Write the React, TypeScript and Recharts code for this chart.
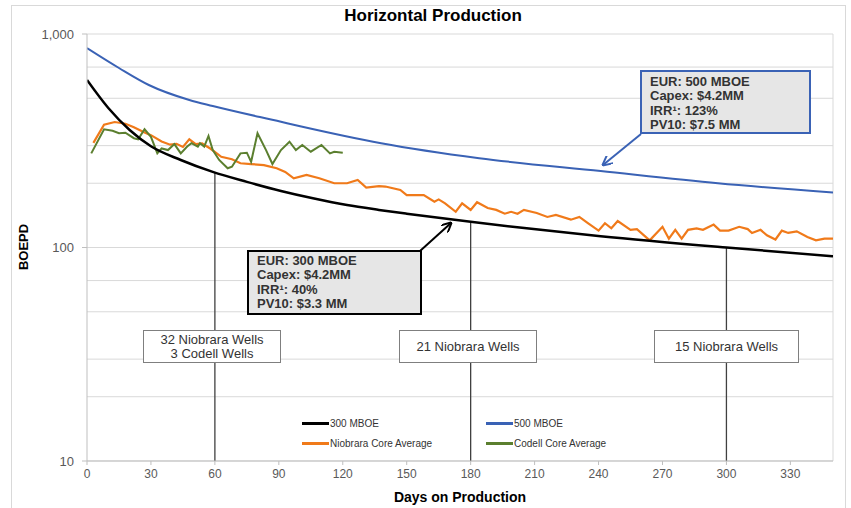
import React from "react";
import {
  LineChart,
  Line,
  XAxis,
  YAxis,
  CartesianGrid,
  ReferenceLine,
} from "recharts";

const FONT = '"Liberation Sans", Arial, sans-serif';

const xTicks = [0, 30, 60, 90, 120, 150, 180, 210, 240, 270, 300, 330];
const yTicks = [10, 100, 1000];
const gridValues = [
  10, 20, 30, 40, 50, 60, 70, 80, 90, 100, 200, 300, 400, 500, 600, 700, 800, 900, 1000,
];

// type curves
const mboe300 = [
  { day: 0, boepd: 609 },
  { day: 10, boepd: 450 },
  { day: 20, boepd: 355 },
  { day: 30, boepd: 298 },
  { day: 44, boepd: 257 },
  { day: 59, boepd: 226 },
  { day: 75, boepd: 203 },
  { day: 91, boepd: 184 },
  { day: 106, boepd: 170 },
  { day: 122, boepd: 158 },
  { day: 137, boepd: 150 },
  { day: 150, boepd: 144 },
  { day: 180, boepd: 132 },
  { day: 203, boepd: 124 },
  { day: 241, boepd: 113 },
  { day: 300, boepd: 100 },
  { day: 350, boepd: 91 },
];

const mboe500 = [
  { day: 0, boepd: 859 },
  { day: 15, boepd: 693 },
  { day: 29, boepd: 577 },
  { day: 48, boepd: 491 },
  { day: 59, boepd: 460 },
  { day: 91, boepd: 388 },
  { day: 100, boepd: 370 },
  { day: 138, boepd: 308 },
  { day: 184, boepd: 262 },
  { day: 241, boepd: 228 },
  { day: 296, boepd: 200 },
  { day: 350, boepd: 181 },
];

const niobraraAvg = [
  { day: 3, boepd: 309 }, { day: 8, boepd: 376 }, { day: 13, boepd: 387 },
  { day: 18, boepd: 380 }, { day: 22, boepd: 366 }, { day: 27, boepd: 346 },
  { day: 30, boepd: 336 }, { day: 35, boepd: 314 }, { day: 39, boepd: 303 },
  { day: 42, boepd: 306 }, { day: 45, boepd: 296 }, { day: 48, boepd: 321 },
  { day: 51, boepd: 305 }, { day: 54, boepd: 307 }, { day: 58, boepd: 290 },
  { day: 63, boepd: 266 }, { day: 68, boepd: 259 }, { day: 72, boepd: 248 },
  { day: 77, boepd: 246 }, { day: 83, boepd: 243 }, { day: 89, boepd: 235 },
  { day: 93, boepd: 226 }, { day: 97, boepd: 211 }, { day: 103, boepd: 219 },
  { day: 109, boepd: 211 }, { day: 116, boepd: 200 }, { day: 122, boepd: 200 },
  { day: 127, boepd: 207 }, { day: 131, boepd: 191 }, { day: 137, boepd: 194 },
  { day: 140, boepd: 193 }, { day: 147, boepd: 186 }, { day: 150, boepd: 176 },
  { day: 158, boepd: 176 }, { day: 163, boepd: 164 }, { day: 165, boepd: 168 },
  { day: 168, boepd: 161 }, { day: 173, boepd: 147 }, { day: 176, boepd: 161 },
  { day: 180, boepd: 150 }, { day: 183, boepd: 163 }, { day: 188, boepd: 153 },
  { day: 192, boepd: 150 }, { day: 196, boepd: 144 }, { day: 199, boepd: 147 },
  { day: 202, boepd: 144 }, { day: 205, boepd: 150 }, { day: 211, boepd: 145 },
  { day: 216, boepd: 139 }, { day: 220, boepd: 142 }, { day: 227, boepd: 135 },
  { day: 231, boepd: 139 }, { day: 235, boepd: 130 }, { day: 240, boepd: 120 },
  { day: 243, boepd: 130 }, { day: 246, boepd: 123 }, { day: 249, boepd: 133 },
  { day: 255, boepd: 121 }, { day: 258, boepd: 122 }, { day: 264, boepd: 108 },
  { day: 270, boepd: 125 }, { day: 273, boepd: 110 }, { day: 276, boepd: 121 },
  { day: 279, boepd: 110 }, { day: 282, boepd: 121 }, { day: 286, boepd: 123 },
  { day: 289, boepd: 121 }, { day: 294, boepd: 128 }, { day: 297, boepd: 120 },
  { day: 301, boepd: 120 }, { day: 306, boepd: 125 }, { day: 310, boepd: 122 },
  { day: 312, boepd: 117 }, { day: 316, boepd: 121 }, { day: 319, boepd: 114 },
  { day: 323, boepd: 109 }, { day: 326, boepd: 120 }, { day: 329, boepd: 117 },
  { day: 333, boepd: 119 }, { day: 338, boepd: 112 }, { day: 342, boepd: 108 },
  { day: 346, boepd: 110 }, { day: 350, boepd: 110 },
];

const codellAvg = [
  { day: 2, boepd: 276 }, { day: 8, boepd: 358 }, { day: 12, boepd: 352 },
  { day: 15, boepd: 343 }, { day: 18, boepd: 345 }, { day: 22, boepd: 325 },
  { day: 24, boepd: 321 }, { day: 27, boepd: 358 }, { day: 30, boepd: 330 },
  { day: 33, boepd: 276 }, { day: 35, boepd: 291 }, { day: 38, boepd: 286 },
  { day: 41, boepd: 305 }, { day: 44, boepd: 276 }, { day: 47, boepd: 297 },
  { day: 49, boepd: 308 }, { day: 52, boepd: 297 }, { day: 53, boepd: 308 },
  { day: 55, boepd: 297 }, { day: 57, boepd: 333 }, { day: 59, boepd: 286 },
  { day: 62, boepd: 257 }, { day: 66, boepd: 235 }, { day: 68, boepd: 239 },
  { day: 72, boepd: 276 }, { day: 75, boepd: 278 }, { day: 77, boepd: 252 },
  { day: 80, boepd: 343 }, { day: 84, boepd: 286 }, { day: 87, boepd: 246 },
  { day: 91, boepd: 286 }, { day: 95, boepd: 313 }, { day: 98, boepd: 286 },
  { day: 101, boepd: 302 }, { day: 105, boepd: 281 }, { day: 110, boepd: 302 },
  { day: 114, boepd: 276 }, { day: 116, boepd: 281 }, { day: 120, boepd: 278 },
];

// well-count markers: day and where the 300 MBOE curve sits
const wellMarkers = [
  { day: 60, top: 226 },
  { day: 180, top: 132 },
  { day: 300, top: 100 },
];

const legendItems = [
  { label: "300 MBOE", color: "#000000" },
  { label: "500 MBOE", color: "#3a62b5" },
  { label: "Niobrara Core Average", color: "#f07a1a" },
  { label: "Codell Core Average", color: "#5b7f2f" },
];

function LegendBox() {
  return (
    <div
      style={{
        position: "absolute",
        left: 302,
        top: 417,
        display: "grid",
        gridTemplateColumns: "184px 184px",
        rowGap: 8,
        fontFamily: FONT,
        fontSize: 10,
        color: "#333",
      }}
    >
      {legendItems.map((it) => (
        <div key={it.label} style={{ display: "flex", alignItems: "center", height: 12 }}>
          <span style={{ display: "inline-block", width: 27, height: 3, background: it.color, marginRight: 1 }} />
          <span>{it.label}</span>
        </div>
      ))}
    </div>
  );
}

const boxText: React.CSSProperties = {
  position: "absolute",
  fontFamily: FONT,
  fontWeight: 700,
  fontSize: 13,
  lineHeight: "14.3px",
  color: "#333",
  background: "#e6e6e6",
  boxSizing: "border-box",
  whiteSpace: "nowrap",
};

const wellBox: React.CSSProperties = {
  position: "absolute",
  fontFamily: FONT,
  fontSize: 13,
  lineHeight: "14px",
  color: "#333",
  background: "#fff",
  border: "1px solid #7f7f7f",
  boxSizing: "border-box",
  display: "flex",
  flexDirection: "column",
  alignItems: "center",
  justifyContent: "center",
  top: 330,
  height: 33,
};

export default function App() {
  return (
    <div style={{ position: "absolute", left: 0, top: 0, width: 851, height: 508, background: "#fff", overflow: "hidden" }}>
      <div
        style={{
          position: "absolute",
          left: 11,
          top: 5,
          width: 835,
          height: 520,
          border: "1px solid #d9d9d9",
          boxSizing: "border-box",
        }}
      />
      <LineChart
        width={851}
        height={508}
        margin={{ top: 34, right: 18, bottom: 17, left: 27 }}
        style={{ position: "absolute", left: 0, top: 0 }}
      >
        <CartesianGrid vertical={false} horizontalValues={gridValues} stroke="#d9d9d9" strokeWidth={1} />
        <XAxis
          type="number"
          dataKey="day"
          domain={[0, 350]}
          ticks={xTicks}
          allowDataOverflow
          height={30}
          tick={{ fontSize: 12, fill: "#595959", fontFamily: FONT }}
          tickLine={{ stroke: "#bfbfbf" }}
          tickSize={4}
          tickMargin={4}
          axisLine={{ stroke: "#bfbfbf" }}
        />
        <YAxis
          type="number"
          scale="log"
          domain={[10, 1000]}
          ticks={yTicks}
          allowDataOverflow
          width={60}
          tick={{ fontSize: 13, fill: "#595959", fontFamily: FONT }}
          tickFormatter={(v: number) => v.toLocaleString("en-US")}
          tickLine={{ stroke: "#bfbfbf" }}
          tickSize={5}
          tickMargin={8}
          axisLine={{ stroke: "#bfbfbf" }}
        />
        <ReferenceLine x={350} stroke="#d9d9d9" />
        {wellMarkers.map((m) => (
          <ReferenceLine
            key={m.day}
            segment={[
              { x: m.day, y: 10 },
              { x: m.day, y: m.top },
            ]}
            stroke="#404040"
            strokeWidth={1.3}
          />
        ))}
        <Line
          data={mboe500}
          dataKey="boepd"
          name="500 MBOE"
          type="monotone"
          stroke="#3a62b5"
          strokeWidth={2}
          dot={false}
          isAnimationActive={false}
        />
        <Line
          data={niobraraAvg}
          dataKey="boepd"
          name="Niobrara Core Average"
          type="linear"
          stroke="#f07a1a"
          strokeWidth={2.2}
          dot={false}
          isAnimationActive={false}
        />
        <Line
          data={codellAvg}
          dataKey="boepd"
          name="Codell Core Average"
          type="linear"
          stroke="#5b7f2f"
          strokeWidth={2}
          dot={false}
          isAnimationActive={false}
        />
        <Line
          data={mboe300}
          dataKey="boepd"
          name="300 MBOE"
          type="monotone"
          stroke="#000000"
          strokeWidth={2.5}
          dot={false}
          isAnimationActive={false}
        />
      </LineChart>

      <LegendBox />

      {/* titles */}
      <div
        style={{
          position: "absolute",
          left: 0,
          width: 866,
          top: 6,
          textAlign: "center",
          fontFamily: FONT,
          fontWeight: 700,
          fontSize: 17,
          color: "#000",
        }}
      >
        Horizontal Production
      </div>
      <div
        style={{
          position: "absolute",
          left: 87,
          width: 746,
          top: 489,
          textAlign: "center",
          fontFamily: FONT,
          fontWeight: 700,
          fontSize: 14,
          color: "#000",
        }}
      >
        Days on Production
      </div>
      <div
        style={{
          position: "absolute",
          left: 23,
          top: 247,
          transform: "translate(-50%, -50%) rotate(-90deg)",
          fontFamily: FONT,
          fontWeight: 700,
          fontSize: 13,
          color: "#000",
        }}
      >
        BOEPD
      </div>

      {/* well count boxes */}
      <div style={{ ...wellBox, left: 143, width: 138 }}>
        <span>32 Niobrara Wells</span>
        <span>3 Codell Wells</span>
      </div>
      <div style={{ ...wellBox, left: 399, width: 138 }}>21 Niobrara Wells</div>
      <div style={{ ...wellBox, left: 654, width: 145 }}>15 Niobrara Wells</div>

      {/* economics boxes */}
      <div style={{ ...boxText, left: 640, top: 70, width: 171, height: 64, border: "2px solid #3a62b5", padding: "3px 0 0 8px" }}>
        <div>EUR: 500 MBOE</div>
        <div>Capex: $4.2MM</div>
        <div>IRR¹: 123%</div>
        <div>PV10: $7.5 MM</div>
      </div>
      <div style={{ ...boxText, left: 247, top: 250, width: 175, height: 65, border: "2px solid #000", padding: "2px 0 0 8px" }}>
        <div>EUR: 300 MBOE</div>
        <div>Capex: $4.2MM</div>
        <div>IRR¹: 40%</div>
        <div>PV10: $3.3 MM</div>
      </div>

      <svg width={851} height={508} style={{ position: "absolute", left: 0, top: 0, pointerEvents: "none" }}>
        <defs>
          <marker id="arrBlue" viewBox="0 0 10 10" refX="9" refY="5" markerWidth="5" markerHeight="5" orient="auto">
            <path d="M0,0 L10,5 L0,10" fill="none" stroke="#3a62b5" strokeWidth={2} />
          </marker>
          <marker id="arrBlack" viewBox="0 0 10 10" refX="9" refY="5" markerWidth="5" markerHeight="5" orient="auto">
            <path d="M0,0 L10,5 L0,10" fill="none" stroke="#000" strokeWidth={2} />
          </marker>
        </defs>
        <line x1={641} y1={134} x2={603} y2={165} stroke="#3a62b5" strokeWidth={2} markerEnd="url(#arrBlue)" />
        <line x1={420} y1={251} x2={451} y2={223} stroke="#000" strokeWidth={2} markerEnd="url(#arrBlack)" />
      </svg>
    </div>
  );
}
